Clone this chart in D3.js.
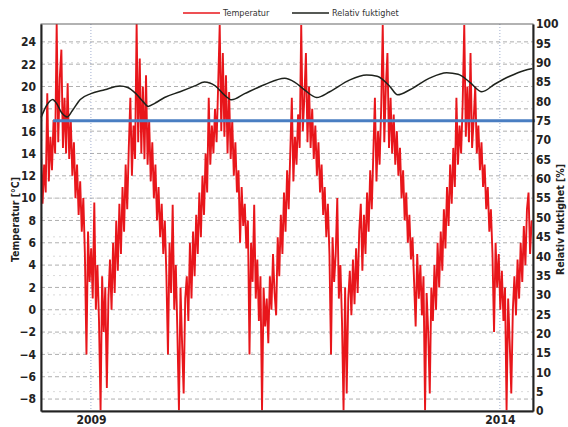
<!DOCTYPE html>
<html>
<head>
<meta charset="utf-8">
<script src="https://cdn.jsdelivr.net/npm/d3@7"></script>
<style>
  body { margin: 0; background: #fff; }
  svg { display: block; }
</style>
</head>
<body>
<div id="chart"></div>
<script>
// Temperature, weekly readings starting late May 2008 (°C)
const tempStartYear = 2008.39;
const tempValues = [
  14.5, 9.5, 13, 10.5, 19.4, 11.5, 15.5, 12.5, 17, 14,
  25.6, 15, 20.8, 23.3, 14.5, 19, 14, 20.3, 13.5, 17,
  12, 15, 10, 13, 8.5, 11.5, 7, 10, 5, -4,
  7, 2.5, 5.5, 1, 9.6, 0, 4, -1, -9, 3,
  -2, 2, -7, 1, 4.5, 0, 6, 1.5, 8, 3.5,
  9.5, 5, 11, 7, 13, 9, 14.5, 19, 12, 16.5,
  13.5, 25.6, 15, 22.5, 14, 20, 13.5, 21, 13, 17,
  11.5, 15, 10, 13, 8, 11, 6.5, 9.5, 5, 8,
  3, -4, 6, 1.5, 9.4, 0, 4, -2, -9, 2,
  -3, -7.5, 1, 3, -1, 6, 1, 7, 3, 8.5,
  5, 10.5, 6.5, 12, 8.5, 14, 10.5, 19, 13, 16.5,
  14, 18, 15, 20, 25.5, 16, 23, 15.5, 21, 14,
  19.5, 13.5, 17, 12, 15, 10.5, 12.5, 6, 11, 7.5,
  9.5, 5.5, 8, -4, 6, 2.5, 9.4, 1, 4.5, -1,
  3, -9, 2, -1.5, 1, -3, 3, 0, 5, 1.5,
  -0.5, 6.5, 3, 8.5, 5, 10.5, 7, 12.5, 9, 14,
  19, 11.5, 15.5, 13, 17.5, 14.5, 25.5, 16, 19, 23,
  15, 20, 14.5, 18, 13.5, 16.5, 12, 15, 10.5, 13,
  8.5, 11, 6.5, 9.5, 5, -4, 6.5, 2.5, 5, 10,
  1, 4, -1, -9, 2, -7.5, 1, 3.5, -0.5, 4.5,
  0.5, 5.5, 1.5, 7, 9.5, 3.5, 8.5, 5, 10.5, 7,
  12.5, 9, 14, 19, 11.5, 16, 13, 18, 25.5, 15,
  20, 23, 14.5, 19, 14, 17.5, 13, 16, 12, 14.5,
  10, 12.5, 8, 10.5, 6, 8.5, 4.5, 6.5, 2.5, -1.5,
  5, 1, 4, -0.5, 3, -9, 1.5, -2, -7.5, 2,
  -1, 4, 0, 6, 2, 7, 3.5, 9, 5.5, 11,
  7.5, 13, 9.5, 14.5, 11, 19, 13, 16.5, 14, 18.5,
  25.5, 15.5, 20, 15, 23, 14.5, 17, 20, 14, 16.5,
  12.5, 15, 11, 13, 9, 11, 7, 9, 5, -2,
  6, 2, 5, 0, 3.5, -1, 2, -9, 1, -3,
  -7.5, 0, 3, -0.5, 4.5, 1, 6, 2.5, 7.5, 4,
  9, 10.5, 5, 8
];

// Relative humidity (%)
const humYears = [
  2008.39, 2008.46, 2008.535, 2008.58, 2008.645, 2008.71, 2008.77, 2008.87,
  2009.0, 2009.17, 2009.355, 2009.45, 2009.55, 2009.635, 2009.70, 2009.78, 2009.9,
  2010.09, 2010.27, 2010.39, 2010.52, 2010.64, 2010.72, 2010.88,
  2011.12, 2011.37, 2011.49, 2011.61, 2011.76, 2011.92,
  2012.16, 2012.37, 2012.50, 2012.65, 2012.75, 2012.90,
  2013.14, 2013.35, 2013.49, 2013.63, 2013.78, 2013.94,
  2014.12, 2014.30, 2014.40
];
const humValues = [
  75.8, 79, 80.5, 79.5, 77, 76, 77.5, 80.5,
  82, 83, 84, 83.6, 82, 80, 78.7, 79.5, 81,
  82.5, 84, 85, 84, 81.5, 80.4, 82,
  84.3, 86, 85, 83, 81, 82.5,
  85.5, 86.8, 86.5, 84, 81.7, 83,
  86, 87.4, 87, 85, 82.5, 84.5,
  86.5, 88, 88.5
];

// 75 % reference line
const limitValue = 75;
const limitYears = [2008.537, 2014.43];

const yearTicks = [2009, 2014];
const tempTicks = d3.range(-8, 25, 2);
const humTicks = d3.range(0, 101, 5);

const width = 568, height = 427;
const margin = { top: 24, right: 35, bottom: 16, left: 41 };
const x0 = margin.left, x1 = width - margin.right;
const y0 = height - margin.bottom, y1 = margin.top;

const svg = d3.select("#chart").append("svg")
  .attr("width", width)
  .attr("height", height);

const x = d3.scaleLinear().domain([2008.39, 2014.405]).range([x0, x1]);
const yT = d3.scaleLinear().domain([-9.07, 25.6]).range([y0, y1]);
const yH = d3.scaleLinear().domain([0, 100]).range([y0, y1]);

const tickFont = '"Liberation Sans Narrow", "DejaVu Sans Condensed", "Liberation Sans", sans-serif';

// grid
const grid = svg.append("g");
grid.selectAll("line.gt")
  .data(tempTicks)
  .join("line")
  .attr("x1", x0).attr("x2", x1)
  .attr("y1", d => yT(d)).attr("y2", d => yT(d))
  .attr("stroke", "#9a9a9a")
  .attr("stroke-width", 0.8)
  .attr("stroke-dasharray", "4,3");
grid.selectAll("line.gh")
  .data(humTicks.filter(d => d > 0 && d < 100))
  .join("line")
  .attr("x1", x0).attr("x2", x1)
  .attr("y1", d => yH(d)).attr("y2", d => yH(d))
  .attr("stroke", "#c8c8c8")
  .attr("stroke-width", 0.7)
  .attr("stroke-dasharray", "2,4");
grid.selectAll("line.gx")
  .data(yearTicks)
  .join("line")
  .attr("x1", d => x(d)).attr("x2", d => x(d))
  .attr("y1", y1).attr("y2", y0)
  .attr("stroke", "#8a9cc4")
  .attr("stroke-width", 0.8)
  .attr("stroke-dasharray", "1,2");

svg.append("clipPath").attr("id", "clip")
  .append("rect")
  .attr("x", x0).attr("y", y1)
  .attr("width", x1 - x0).attr("height", y0 - y1);

const tempData = tempValues.map((v, i) => [tempStartYear + i * 7 / 365.25, v]);

svg.append("path")
  .datum(tempData)
  .attr("clip-path", "url(#clip)")
  .attr("fill", "none")
  .attr("stroke", "#e8161b")
  .attr("stroke-width", 1.9)
  .attr("d", d3.line().x(d => x(d[0])).y(d => yT(d[1])));

svg.append("path")
  .datum(humYears.map((yr, i) => [yr, humValues[i]]))
  .attr("fill", "none")
  .attr("stroke", "#1e221c")
  .attr("stroke-width", 1.5)
  .attr("d", d3.line().curve(d3.curveMonotoneX).x(d => x(d[0])).y(d => yH(d[1])));

svg.append("line")
  .attr("x1", x(limitYears[0])).attr("x2", x(limitYears[1]))
  .attr("y1", yH(limitValue)).attr("y2", yH(limitValue))
  .attr("stroke", "#4a7ec2")
  .attr("stroke-width", 3);

// frame
svg.append("rect")
  .attr("x", x0).attr("y", y1)
  .attr("width", x1 - x0).attr("height", y0 - y1)
  .attr("fill", "none")
  .attr("stroke", "#666")
  .attr("stroke-width", 1);

// axes
const axL = svg.append("g")
  .attr("transform", `translate(${x0},0)`)
  .call(d3.axisLeft(yT).tickValues(tempTicks).tickSize(0).tickPadding(5));
const axR = svg.append("g")
  .attr("transform", `translate(${x1},0)`)
  .call(d3.axisRight(yH).tickValues(humTicks).tickSize(0).tickPadding(3));
const axB = svg.append("g")
  .attr("transform", `translate(0,${y0})`)
  .call(d3.axisBottom(x).tickValues(yearTicks).tickFormat(d3.format("d")).tickSize(0).tickPadding(4));

[axL, axR, axB].forEach(ax => {
  ax.select(".domain").attr("stroke", "#222").attr("stroke-width", 2);
  ax.selectAll("text")
    .attr("fill", "#222")
    .style("font-family", tickFont)
    .style("font-weight", "bold")
    .style("font-size", "12px");
});

// axis titles
svg.append("text")
  .attr("transform", `translate(19,${(y0 + y1) / 2 + 2}) rotate(-90)`)
  .attr("text-anchor", "middle")
  .style("font-family", tickFont)
  .style("font-weight", "bold")
  .style("font-size", "10.5px")
  .attr("fill", "#222")
  .text("Temperatur [°C]");
svg.append("text")
  .attr("transform", `translate(564,${(y0 + y1) / 2 + 2}) rotate(-90)`)
  .attr("text-anchor", "middle")
  .style("font-family", tickFont)
  .style("font-weight", "bold")
  .style("font-size", "10.5px")
  .attr("fill", "#222")
  .text("Relativ fuktighet [%]");

// legend
const legend = [
  { label: "Temperatur", color: "#e8161b", x: 183 },
  { label: "Relativ fuktighet", color: "#1e221c", x: 292 }
];
const lg = svg.append("g").selectAll("g")
  .data(legend)
  .join("g")
  .attr("transform", d => `translate(${d.x},13)`);
lg.append("line")
  .attr("x1", 0).attr("x2", 37)
  .attr("stroke", d => d.color)
  .attr("stroke-width", 1.5);
lg.append("text")
  .attr("x", 40).attr("y", 3)
  .style("font-family", tickFont)
  .style("font-size", "9px")
  .attr("fill", "#333")
  .text(d => d.label);
</script>
</body>
</html>
